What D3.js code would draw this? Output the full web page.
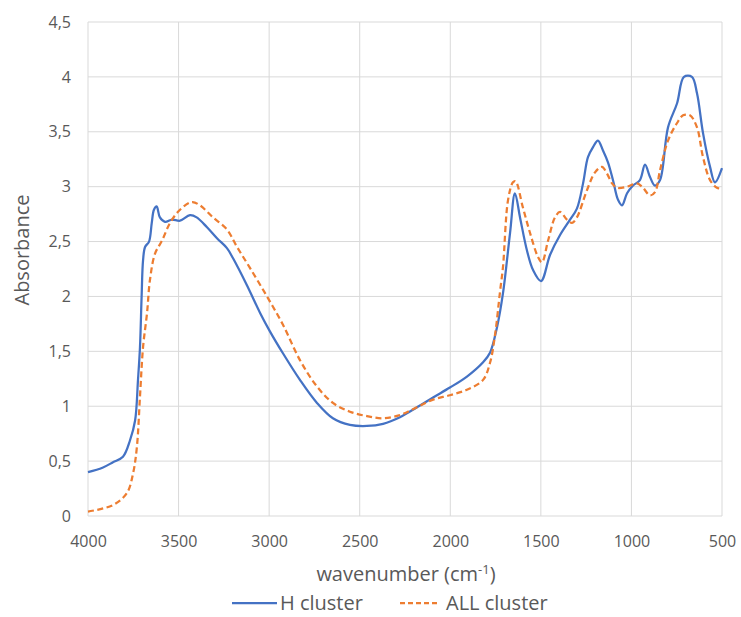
<!DOCTYPE html>
<html>
<head>
<meta charset="utf-8">
<script src="https://cdn.jsdelivr.net/npm/d3@7"></script>
<style>
  body { margin: 0; background: #fff; }
  text { font-family: "Open Sans", sans-serif; fill: #595959; }
</style>
</head>
<body>
<div id="plot"></div>
<script>
// H cluster spectrum
const hWavenumber = [4000, 3920, 3862, 3807, 3768, 3740, 3724, 3713, 3704, 3696, 3685, 3663, 3648, 3636, 3621, 3603, 3575, 3536, 3492, 3437, 3400, 3343, 3288, 3233, 3200, 3122, 3050, 2995, 2923, 2830, 2736, 2648, 2554, 2460, 2371, 2278, 2184, 2095, 2002, 1908, 1819, 1780, 1742, 1709, 1670, 1643, 1615, 1577, 1543, 1499, 1449, 1394, 1339, 1301, 1267, 1240, 1212, 1185, 1157, 1129, 1102, 1074, 1052, 1024, 991, 953, 925, 898, 870, 842, 798, 748, 710, 666, 638, 605, 566, 539, 500];
const hAbsorbance = [0.40, 0.44, 0.49, 0.54, 0.69, 0.87, 1.24, 1.54, 2.00, 2.33, 2.45, 2.50, 2.67, 2.79, 2.82, 2.72, 2.68, 2.70, 2.69, 2.74, 2.72, 2.63, 2.53, 2.44, 2.35, 2.10, 1.85, 1.68, 1.48, 1.24, 1.03, 0.89, 0.83, 0.82, 0.84, 0.90, 0.99, 1.08, 1.17, 1.27, 1.40, 1.49, 1.72, 2.03, 2.58, 2.94, 2.72, 2.42, 2.24, 2.14, 2.38, 2.56, 2.70, 2.80, 3.03, 3.27, 3.36, 3.42, 3.33, 3.22, 3.06, 2.88, 2.83, 2.94, 3.01, 3.06, 3.20, 3.09, 3.01, 3.06, 3.54, 3.76, 4.00, 4.00, 3.85, 3.49, 3.18, 3.04, 3.17];

// ALL cluster spectrum
const allWavenumber = [4000, 3862, 3785, 3751, 3730, 3713, 3696, 3674, 3658, 3630, 3591, 3547, 3492, 3426, 3382, 3310, 3233, 3177, 3106, 3012, 2923, 2830, 2736, 2648, 2554, 2460, 2371, 2278, 2184, 2095, 2002, 1908, 1819, 1780, 1753, 1725, 1709, 1681, 1654, 1640, 1599, 1560, 1516, 1494, 1460, 1422, 1394, 1356, 1328, 1301, 1245, 1201, 1163, 1135, 1107, 1080, 1024, 969, 936, 898, 870, 842, 798, 748, 715, 677, 638, 605, 566, 528, 500];
const allAbsorbance = [0.04, 0.10, 0.21, 0.39, 0.63, 1.09, 1.54, 1.85, 2.15, 2.39, 2.51, 2.67, 2.79, 2.86, 2.83, 2.72, 2.61, 2.45, 2.26, 2.00, 1.74, 1.42, 1.18, 1.03, 0.95, 0.91, 0.89, 0.92, 0.99, 1.06, 1.10, 1.15, 1.24, 1.40, 1.65, 2.05, 2.27, 2.88, 3.04, 3.05, 2.81, 2.58, 2.36, 2.31, 2.51, 2.72, 2.77, 2.70, 2.67, 2.72, 2.97, 3.13, 3.18, 3.12, 3.03, 2.99, 3.00, 3.03, 2.99, 2.92, 2.95, 3.15, 3.42, 3.58, 3.65, 3.65, 3.54, 3.27, 3.06, 2.99, 2.98];

const xTicks = [4000, 3500, 3000, 2500, 2000, 1500, 1000, 500];
const yTicks = [0, 0.5, 1, 1.5, 2, 2.5, 3, 3.5, 4, 4.5];

const width = 741, height = 617;
const margin = {top: 22, right: 19, bottom: 101, left: 88};

const svg = d3.select("#plot")
  .append("svg")
  .attr("width", width)
  .attr("height", height);

const xScale = d3.scaleLinear()
  .domain([4000, 500])
  .range([margin.left, width - margin.right]);

const yScale = d3.scaleLinear()
  .domain([0, 4.5])
  .range([height - margin.bottom, margin.top]);

const fmt = d => String(d).replace(".", ",");

// gridlines
svg.append("g")
  .selectAll("line")
  .data(yTicks)
  .join("line")
    .attr("x1", margin.left)
    .attr("x2", width - margin.right)
    .attr("y1", d => yScale(d))
    .attr("y2", d => yScale(d))
    .attr("stroke", "#d9d9d9")
    .attr("stroke-width", 1);

svg.append("g")
  .selectAll("line")
  .data(xTicks)
  .join("line")
    .attr("x1", d => xScale(d))
    .attr("x2", d => xScale(d))
    .attr("y1", margin.top)
    .attr("y2", height - margin.bottom)
    .attr("stroke", "#d9d9d9")
    .attr("stroke-width", 1);

// axes (labels only)
const yAxis = svg.append("g")
  .attr("transform", `translate(${margin.left - 14},0)`)
  .call(d3.axisLeft(yScale).tickValues(yTicks).tickFormat(fmt).tickSize(0));
yAxis.select(".domain").remove();
yAxis.selectAll("text")
  .style("font-size", "16px")
  .style("font-family", "Open Sans, sans-serif")
  .attr("fill", "#595959");

const xAxis = svg.append("g")
  .attr("transform", `translate(0,${height - margin.bottom + 17})`)
  .call(d3.axisBottom(xScale).tickValues(xTicks).tickFormat(d => d).tickSize(0));
xAxis.select(".domain").remove();
xAxis.selectAll("text")
  .style("font-size", "16px")
  .style("font-family", "Open Sans, sans-serif")
  .attr("fill", "#595959");

// axis titles
svg.append("text")
  .attr("transform", "rotate(-90)")
  .attr("x", -250)
  .attr("y", 29)
  .attr("text-anchor", "middle")
  .style("font-size", "20px")
  .text("Absorbance");

const xTitle = svg.append("text")
  .attr("x", 406)
  .attr("y", 581)
  .attr("text-anchor", "middle")
  .style("font-size", "20px");
xTitle.append("tspan").text("wavenumber (cm");
xTitle.append("tspan").attr("dy", -7).style("font-size", "13px").text("-1");
xTitle.append("tspan").attr("dy", 7).text(")");

// lines
const line = d3.line()
  .x(d => xScale(d[0]))
  .y(d => yScale(d[1]))
  .curve(d3.curveCatmullRom.alpha(0.5));

const hData = hWavenumber.map((w, i) => [w, hAbsorbance[i]]);
const allData = allWavenumber.map((w, i) => [w, allAbsorbance[i]]);

svg.append("path")
  .datum(hData)
  .attr("fill", "none")
  .attr("stroke", "#4472c4")
  .attr("stroke-width", 2.25)
  .attr("stroke-linejoin", "round")
  .attr("d", line);

svg.append("path")
  .datum(allData)
  .attr("fill", "none")
  .attr("stroke", "#ed7d31")
  .attr("stroke-width", 2.25)
  .attr("stroke-dasharray", "6,3.5")
  .attr("d", line);

// legend
const legend = svg.append("g").attr("transform", "translate(0,603)");
legend.append("line")
  .attr("x1", 232).attr("x2", 277).attr("y1", 0).attr("y2", 0)
  .attr("stroke", "#4472c4").attr("stroke-width", 2.25);
legend.append("text")
  .attr("x", 280).attr("y", 7)
  .style("font-size", "20px")
  .text("H cluster");
legend.append("line")
  .attr("x1", 400).attr("x2", 440).attr("y1", 0).attr("y2", 0)
  .attr("stroke", "#ed7d31").attr("stroke-width", 2.25)
  .attr("stroke-dasharray", "5,3");
legend.append("text")
  .attr("x", 446).attr("y", 7)
  .style("font-size", "20px")
  .text("ALL cluster");
</script>
</body>
</html>
